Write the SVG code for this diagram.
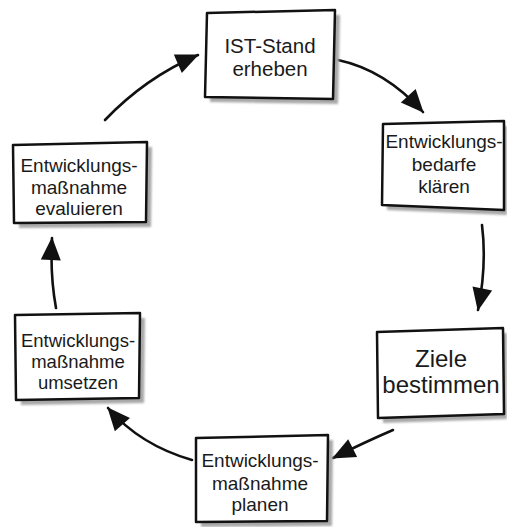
<svg xmlns="http://www.w3.org/2000/svg" width="507" height="527" viewBox="0 0 507 527">
<style>
.box{fill:#fff;stroke:#111;stroke-width:2.5;stroke-linejoin:round}
.sh{fill:#a8a8a8;filter:url(#blur)}
.t{font-family:"Liberation Sans",Arial,sans-serif;fill:#1a1a1a;text-anchor:middle}
.conn{fill:none;stroke:#111;stroke-width:2.6;stroke-linecap:round}
</style>
<defs>
<filter id="blur" x="-10%" y="-10%" width="120%" height="120%"><feGaussianBlur stdDeviation="1.2"/></filter>
<marker id="ah" markerUnits="userSpaceOnUse" markerWidth="26" markerHeight="22" viewBox="0 0 26 22" refX="23" refY="11" orient="auto">
<path d="M1,1 L24,11 L1,21 Z" fill="#111"/>
</marker>
</defs>
<g id="connectors">
<path class="conn" d="M105,120 Q145,78 198,55" marker-end="url(#ah)"/>
<path class="conn" d="M338,60 Q385,70 423,112" marker-end="url(#ah)"/>
<path class="conn" d="M482,225 Q487,265 478,310" marker-end="url(#ah)"/>
<path class="conn" d="M393,430 Q365,442 333,458" marker-end="url(#ah)"/>
<path class="conn" d="M192,460 Q140,445 108,408" marker-end="url(#ah)"/>
<path class="conn" d="M56,308 Q50,275 52,238" marker-end="url(#ah)"/>
</g>
<g id="n1">
<polygon class="sh" points="212,18 340,15 338,104 210,102"/>
<polygon class="box" points="207,13 335,10 333,99 205,97"/>
<text class="t" font-size="20.5" x="270" y="53">IST-Stand</text>
<text class="t" font-size="20.5" x="270" y="76">erheben</text>
</g>
<g id="n2">
<polygon class="sh" points="388,129 507,126 507,215 387,210"/>
<polygon class="box" points="383,124 504,121 504,210 382,205"/>
<text class="t" font-size="19" x="444" y="148">Entwicklungs-</text>
<text class="t" font-size="19" x="444" y="171">bedarfe</text>
<text class="t" font-size="19" x="444" y="193">klären</text>
</g>
<g id="n3">
<polygon class="sh" points="382,337 507,333 507,419 383,423"/>
<polygon class="box" points="377,332 503,328 504,414 378,418"/>
<text class="t" font-size="24" x="441" y="367">Ziele</text>
<text class="t" font-size="24" x="441" y="393">bestimmen</text>
</g>
<g id="n4">
<polygon class="sh" points="201,443 333,440 332,526 201,527"/>
<polygon class="box" points="196,438 328,435 327,521 196,522"/>
<text class="t" font-size="19" x="260" y="467">Entwicklungs-</text>
<text class="t" font-size="19" x="260" y="490">maßnahme</text>
<text class="t" font-size="19" x="260" y="511">planen</text>
</g>
<g id="n5">
<polygon class="sh" points="18,150 152,147 151,227 19,228"/>
<polygon class="box" points="13,145 147,142 146,222 14,223"/>
<text class="t" font-size="19" x="79" y="172">Entwicklungs-</text>
<text class="t" font-size="19" x="79" y="194">maßnahme</text>
<text class="t" font-size="19" x="79" y="215">evaluieren</text>
</g>
<g id="n6">
<polygon class="sh" points="20,320 145,318 144,403 21,405"/>
<polygon class="box" points="15,315 140,313 139,398 16,400"/>
<text class="t" font-size="18.5" x="78" y="347">Entwicklungs-</text>
<text class="t" font-size="18.5" x="78" y="368">maßnahme</text>
<text class="t" font-size="18.5" x="78" y="389">umsetzen</text>
</g>
</svg>
